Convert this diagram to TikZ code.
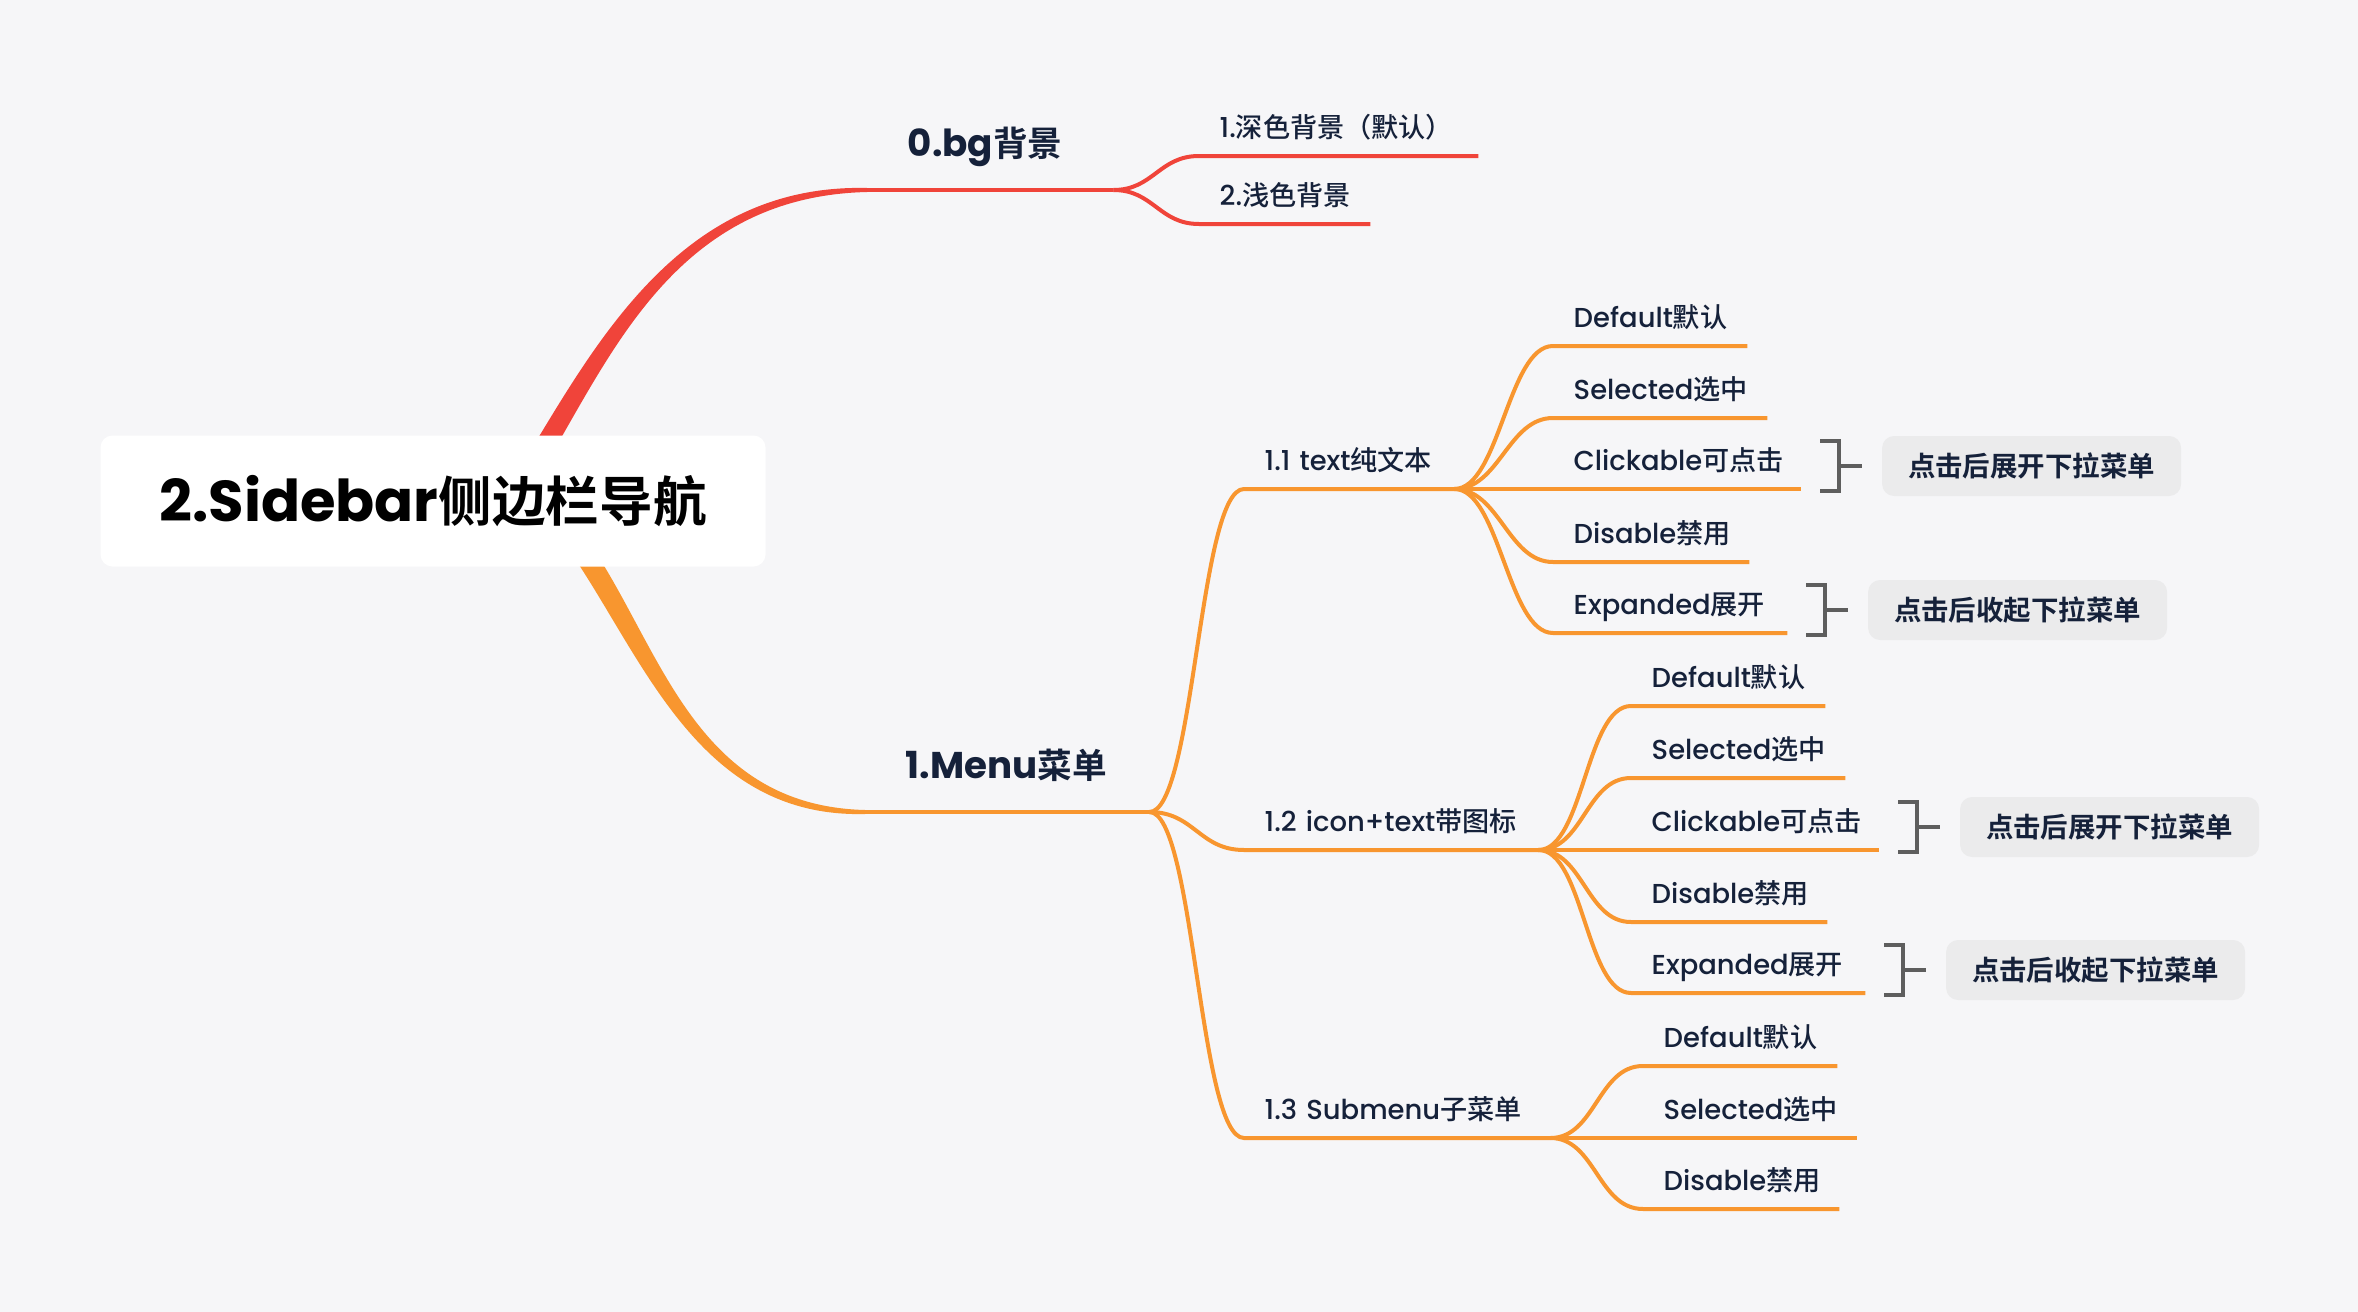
\documentclass[tikz,border=0pt]{standalone}
\usepackage{fontspec}
\setmainfont{Poppins Medium}[BoldFont={Poppins Bold}]
\newfontfamily\cjk[Scale=0.99,UprightFont={Noto Sans CJK SC Medium},BoldFont={Noto Sans CJK SC Bold}]{Noto Sans CJK SC}
\newfontfamily\cjkb[Scale=0.93,UprightFont={Noto Sans CJK SC Medium},BoldFont={Noto Sans CJK SC Bold}]{Noto Sans CJK SC}
\newcommand{\zh}[1]{{\cjk #1}}
\newcommand{\zhb}[1]{{\cjkb #1}}
\usetikzlibrary{calc}
\definecolor{paper}{HTML}{F6F6F8}
\definecolor{ink}{HTML}{15213A}
\definecolor{redc}{HTML}{F0443A}
\definecolor{orangec}{HTML}{F8962F}
\definecolor{brkc}{HTML}{5E5E5E}
\definecolor{notec}{HTML}{EBEBEC}
\pgfdeclarelayer{back}
\pgfsetlayers{back,main}
\tikzset{
  topic/.style={anchor=south west, inner xsep=4mm, inner ysep=3.3mm, text depth=0pt,
    align=left, text=ink, font=\fontsize{10.6}{12}\selectfont\bfseries},
  leaf/.style={anchor=south west, inner xsep=2mm, inner ysep=1.8mm, text depth=0pt,
    align=left, text=ink, font=\fontsize{7.8}{9}\selectfont},
  note/.style={anchor=west, fill=notec, rounded corners=1.2mm, minimum width=29.9mm,
    minimum height=6mm, text=ink, font=\fontsize{8.4}{10}\selectfont\bfseries},
  redline/.style={draw=redc, line width=0.4mm},
  orangeline/.style={draw=orangec, line width=0.4mm},
  brk/.style={draw=brkc, line width=0.4mm},
}

\begin{document}
\begin{tikzpicture}[x=0.1mm, y=-0.1mm]
\useasboundingbox (0,0) rectangle (2358,1312);

% root and main branches
\node[fill=white, rounded corners=1.2mm, minimum width=66.5mm, minimum height=13.1mm,
  font=\fontsize{16.4}{20}\selectfont\bfseries] (root) at (433,501) {2.Sidebar\zhb{侧边栏导航}};
\node[topic, text width=16.5mm] (bg) at (867,190) {0.bg\zhb{背景}};
\node[topic, text width=20.3mm] (menu) at (865,812) {1.Menu\zhb{菜单}};

\node[leaf, text width=23.8mm] (bg1) at (1199,156) {1.\zh{深色背景（默认）}};
\node[leaf, text width=13mm] (bg2) at (1199,224) {2.\zh{浅色背景}};

\node[leaf, text width=16.9mm] (t11) at (1244,489) {1.1 text\zh{纯文本}};
\node[leaf, text width=25.3mm] (t12) at (1244,850) {1.2 icon+text\zh{带图标}};
\node[leaf, text width=26.5mm] (t13) at (1244,1138) {1.3 Submenu\zh{子菜单}};

% 1.1
\node[leaf, text width=15.3mm] (a1) at (1553,346) {Default\zh{默认}};
\node[leaf, text width=17.3mm] (a2) at (1553,418) {Selected\zh{选中}};
\node[leaf, text width=20.7mm] (a3) at (1553,489) {Clickable\zh{可点击}};
\node[leaf, text width=15.5mm] (a4) at (1553,562) {Disable\zh{禁用}};
\node[leaf, text width=19.3mm] (a5) at (1553,633) {Expanded\zh{展开}};
% 1.2
\node[leaf, text width=15.3mm] (b1) at (1631,706) {Default\zh{默认}};
\node[leaf, text width=17.3mm] (b2) at (1631,778) {Selected\zh{选中}};
\node[leaf, text width=20.7mm] (b3) at (1631,850) {Clickable\zh{可点击}};
\node[leaf, text width=15.5mm] (b4) at (1631,922) {Disable\zh{禁用}};
\node[leaf, text width=19.3mm] (b5) at (1631,993) {Expanded\zh{展开}};
% 1.3
\node[leaf, text width=15.3mm] (s1) at (1643,1066) {Default\zh{默认}};
\node[leaf, text width=17.3mm] (s2) at (1643,1138) {Selected\zh{选中}};
\node[leaf, text width=15.5mm] (s3) at (1643,1209) {Disable\zh{禁用}};

\begin{pgfonlayer}{back}
  \fill[paper] (0,0) rectangle (2358,1312);
  \fill[redc] ($(root.center)+(66,0)$) .. controls +(80,-121) and +(-207,-5) .. ($(bg.south west)+(0,-2)$)
    -- ($(bg.south west)+(0,2)$) .. controls +(-207,5) and +(80,-121) .. ($(root.center)+(90,0)$) -- cycle;
  \fill[orangec] ($(root.center)+(96,0)$) .. controls +(100,99) and +(-195,5) .. ($(menu.south west)+(0,2)$)
    -- ($(menu.south west)+(0,-2)$) .. controls +(-195,-5) and +(100,99) .. ($(root.center)+(122,0)$) -- cycle;
\end{pgfonlayer}

\draw[redline, line width=0.45mm] (bg.south west) -- (bg.south east);
\draw[orangeline, line width=0.45mm] (menu.south west) -- (menu.south east);

\foreach \n in {bg1,bg2}
  \draw[redline] (bg.south east) .. controls +(40,0) and +(-40,0) .. (\n.south west) -- (\n.south east);
\foreach \n in {t11,t12,t13}
  \draw[orangeline] (menu.south east) .. controls +(45,0) and +(-45,0) .. (\n.south west) -- (\n.south east);
\foreach \n in {a1,a2,a3,a4,a5}
  \draw[orangeline] (t11.south east) .. controls +(45,0) and +(-45,0) .. (\n.south west) -- (\n.south east);
\foreach \n in {b1,b2,b3,b4,b5}
  \draw[orangeline] (t12.south east) .. controls +(45,0) and +(-45,0) .. (\n.south west) -- (\n.south east);
\foreach \n in {s1,s2,s3}
  \draw[orangeline] (t13.south east) .. controls +(45,0) and +(-45,0) .. (\n.south west) -- (\n.south east);

% brackets and notes
\foreach \n/\k in {a3/k1, a5/k2, b3/k3, b5/k4} {
  \draw[brk] ($(\n.south east)+(19,-48)$) -- ++(19,0) -- ++(0,50) -- ++(-19,0);
  \draw[brk] ($(\n.south east)+(38,-23)$) -- ++(23,0) coordinate (\k);
}
\node[note] (n1) at ($(k1)+(19,0)$) {\zhb{点击后展开下拉菜单}};
\node[note] (n2) at ($(k2)+(19,0)$) {\zhb{点击后收起下拉菜单}};
\node[note] (n3) at ($(k3)+(19,0)$) {\zhb{点击后展开下拉菜单}};
\node[note] (n4) at ($(k4)+(19,0)$) {\zhb{点击后收起下拉菜单}};
\end{tikzpicture}
\end{document}
